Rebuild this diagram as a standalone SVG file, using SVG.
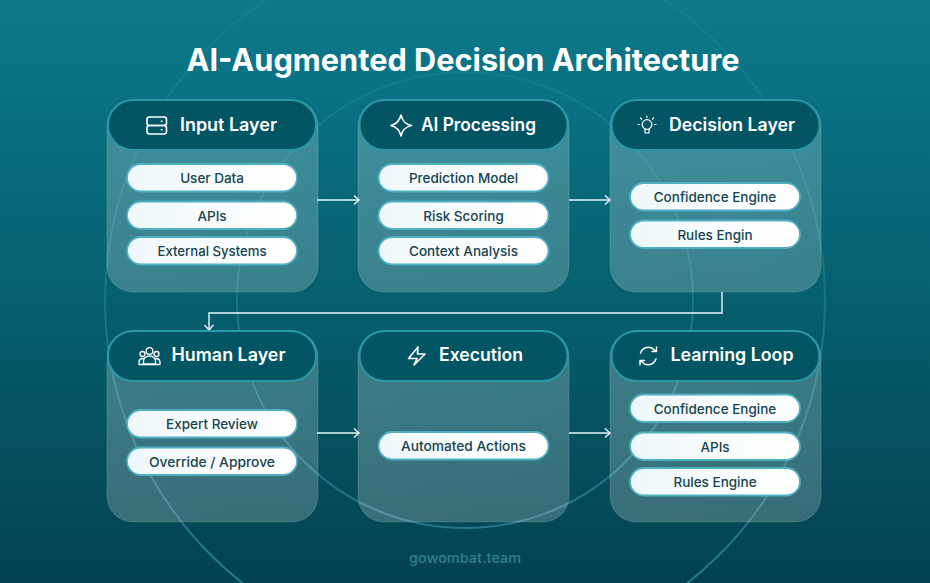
<svg xmlns="http://www.w3.org/2000/svg" width="930" height="583" viewBox="0 0 930 583">
<style>
text{font-family:"Inter","Liberation Sans",sans-serif;text-anchor:middle}
.title{font-size:31px;font-weight:700;fill:#fff}
.head{font-size:18px;font-weight:600;fill:#fff}
.item{font-size:13.5px;font-weight:500;fill:#17434f}
.card{fill:url(#cardg);stroke:#ffffff;stroke-opacity:.13;stroke-width:1.2}
.hdr{fill:#035564;stroke:#2b97a8;stroke-width:2}
.pill{fill:url(#pillg);stroke:#4fb0c2;stroke-width:1.8}
.ic{fill:none;stroke:#fff;stroke-width:1.6;stroke-linecap:round;stroke-linejoin:round}
.con{fill:none;stroke:#e8f6f8;stroke-width:1.4}
.ring{fill:none;stroke:url(#ringg);stroke-width:2}
</style>
<defs>
<linearGradient id="bg" x1="0" y1="0" x2="0" y2="1"><stop offset="0" stop-color="#0b7a8c"/><stop offset=".5" stop-color="#06606f"/><stop offset="1" stop-color="#03424e"/></linearGradient>
<linearGradient id="cardg" x1="0" y1="0" x2="1" y2="1"><stop offset="0" stop-color="#ffffff" stop-opacity=".22"/><stop offset="1" stop-color="#ffffff" stop-opacity=".2"/></linearGradient>
<linearGradient id="pillg" x1="0" y1="0" x2="1" y2="0"><stop offset="0" stop-color="#eef7fa"/><stop offset=".5" stop-color="#f8fcfd"/><stop offset="1" stop-color="#ffffff"/></linearGradient>
<linearGradient id="ringg" gradientUnits="userSpaceOnUse" x1="0" y1="0" x2="0" y2="583"><stop offset="0" stop-color="#3c9dac" stop-opacity=".12"/><stop offset=".5" stop-color="#3c9dac" stop-opacity=".35"/><stop offset="1" stop-color="#3c9dac" stop-opacity=".6"/></linearGradient>
<marker id="arr" markerWidth="10" markerHeight="12" refX="8" refY="5" orient="auto" markerUnits="userSpaceOnUse"><path d="M3 0.5 L8 5 L3 9.5" fill="none" stroke="#e8f6f8" stroke-width="1.4"/></marker>
</defs>
<rect width="930" height="583" fill="url(#bg)"/>
<g id="background-rings">
<circle class="ring" cx="465" cy="300" r="360"/>
<circle class="ring" cx="465" cy="300" r="228"/>
</g>
<text class="title" x="463" y="71" textLength="553" lengthAdjust="spacingAndGlyphs">AI-Augmented Decision Architecture</text>

<g id="connectors">
<path class="con" marker-end="url(#arr)" d="M317 200H359"/>
<path class="con" marker-end="url(#arr)" d="M569 200H610"/>
<path class="con" marker-end="url(#arr)" d="M722 292V313H209V330"/>
<path class="con" marker-end="url(#arr)" d="M317 433H359"/>
<path class="con" marker-end="url(#arr)" d="M569 433H610"/>
</g>

<g id="input-layer">
<rect class="card" x="107" y="100" width="211" height="192" rx="26"/>
<rect class="hdr" x="108" y="100" width="208" height="50" rx="25"/>
<g class="ic"><rect x="147" y="117" width="19.500" height="8.500" rx="2.500"/><rect x="147" y="125.500" width="19.500" height="8.500" rx="2.500"/><path d="M161.500 121.300h.5M161.500 129.800h.5"/></g>
<text class="head" x="228.500" y="130.500" textLength="97" lengthAdjust="spacingAndGlyphs">Input Layer</text>
<rect class="pill" x="127" y="164" width="170" height="27.500" rx="13.700"/><text class="item" x="212" y="183">User Data</text>
<rect class="pill" x="127" y="201.500" width="170" height="27.500" rx="13.700"/><text class="item" x="212" y="220.500">APIs</text>
<rect class="pill" x="127" y="237" width="170" height="27.500" rx="13.700"/><text class="item" x="212" y="256" textLength="109" lengthAdjust="spacingAndGlyphs">External Systems</text>
</g>

<g id="ai-processing">
<rect class="card" x="358" y="100" width="211" height="192" rx="26"/>
<rect class="hdr" x="359.500" y="100" width="208" height="50" rx="25"/>
<path class="ic" d="M401 115C402.500 121 405 124 411.500 125.500C405 127 402.500 130 401 136C399.500 130 397 127 391 125.500C397 124 399.500 121 401 115Z"/>
<text class="head" x="478.500" y="130.500" textLength="115" lengthAdjust="spacingAndGlyphs">AI Processing</text>
<rect class="pill" x="378.500" y="164" width="170" height="27.500" rx="13.700"/><text class="item" x="463.500" y="183">Prediction Model</text>
<rect class="pill" x="378.500" y="201.500" width="170" height="27.500" rx="13.700"/><text class="item" x="463.500" y="220.500">Risk Scoring</text>
<rect class="pill" x="378.500" y="237" width="170" height="27.500" rx="13.700"/><text class="item" x="463.500" y="256" textLength="109" lengthAdjust="spacingAndGlyphs">Context Analysis</text>
</g>

<g id="decision-layer">
<rect class="card" x="610" y="100" width="211" height="192" rx="26"/>
<rect class="hdr" x="611.500" y="100" width="208" height="50" rx="25"/>
<g class="ic" style="stroke-width:1.200"><circle cx="647" cy="124.500" r="4.800"/><path d="M645 129v4h4v-4M647 117.500v-1.500M639.500 124.500h-1.500M656 124.500h-1.500M641.500 119l-1-1M652.500 119l1-1"/></g>
<text class="head" x="732" y="130.500" textLength="126" lengthAdjust="spacingAndGlyphs">Decision Layer</text>
<rect class="pill" x="630" y="183" width="170" height="27.500" rx="13.700"/><text class="item" x="715" y="202">Confidence Engine</text>
<rect class="pill" x="630" y="220.500" width="170" height="27.500" rx="13.700"/><text class="item" x="715" y="239.500">Rules Engin</text>
</g>

<g id="human-layer">
<rect class="card" x="107" y="331" width="211" height="191" rx="26"/>
<rect class="hdr" x="108" y="331" width="208" height="50" rx="25"/>
<g class="ic" style="stroke-width:1.300"><circle cx="149.500" cy="351" r="3.300"/><circle cx="142.500" cy="354" r="2.500"/><circle cx="156.500" cy="354" r="2.500"/><path d="M143.500 364v-3a6 5 0 0 1 12 0v3ZM139 364.500v-2.500a4 4 0 0 1 4-3.500M160 364.500v-2.500a4 4 0 0 0-4-3.500M139 364.500h21"/></g>
<text class="head" x="228.500" y="361" textLength="114" lengthAdjust="spacingAndGlyphs">Human Layer</text>
<rect class="pill" x="127" y="410" width="170" height="27.500" rx="13.700"/><text class="item" x="212" y="429">Expert Review</text>
<rect class="pill" x="127" y="447.500" width="170" height="27.500" rx="13.700"/><text class="item" x="212" y="466.500" textLength="126" lengthAdjust="spacingAndGlyphs">Override / Approve</text>
</g>

<g id="execution">
<rect class="card" x="358" y="331" width="211" height="191" rx="26"/>
<rect class="hdr" x="359.500" y="331" width="208" height="50" rx="25"/>
<path class="ic" d="M418 347L408.500 358.500H417L414 365L425 354H417.500L418 347Z"/>
<text class="head" x="481" y="361" textLength="84" lengthAdjust="spacingAndGlyphs">Execution</text>
<rect class="pill" x="378.500" y="432" width="170" height="27.500" rx="13.700"/><text class="item" x="463.500" y="451" textLength="125" lengthAdjust="spacingAndGlyphs">Automated Actions</text>
</g>

<g id="learning-loop">
<rect class="card" x="610" y="331" width="211" height="191" rx="26"/>
<rect class="hdr" x="611.500" y="331" width="208" height="50" rx="25"/>
<g class="ic" style="stroke-width:1.400"><path d="M640.500 353a8.300 8.300 0 0 1 14-3l1.500 1.500M656.500 347v4.500h-4.500M656 359a8.300 8.300 0 0 1-14 3l-1.500-1.500M640 365v-4.500h4.500"/></g>
<text class="head" x="732" y="361" textLength="123" lengthAdjust="spacingAndGlyphs">Learning Loop</text>
<rect class="pill" x="630" y="394.500" width="170" height="27.500" rx="13.700"/><text class="item" x="715" y="413.500">Confidence Engine</text>
<rect class="pill" x="630" y="432.500" width="170" height="27.500" rx="13.700"/><text class="item" x="715" y="451.500">APIs</text>
<rect class="pill" x="630" y="468" width="170" height="27.500" rx="13.700"/><text class="item" x="715" y="487">Rules Engine</text>
</g>

<text x="465" y="563" style="font-size:13.500px;font-weight:600;fill:#2f7a86" textLength="112" lengthAdjust="spacingAndGlyphs">gowombat.team</text>
</svg>
